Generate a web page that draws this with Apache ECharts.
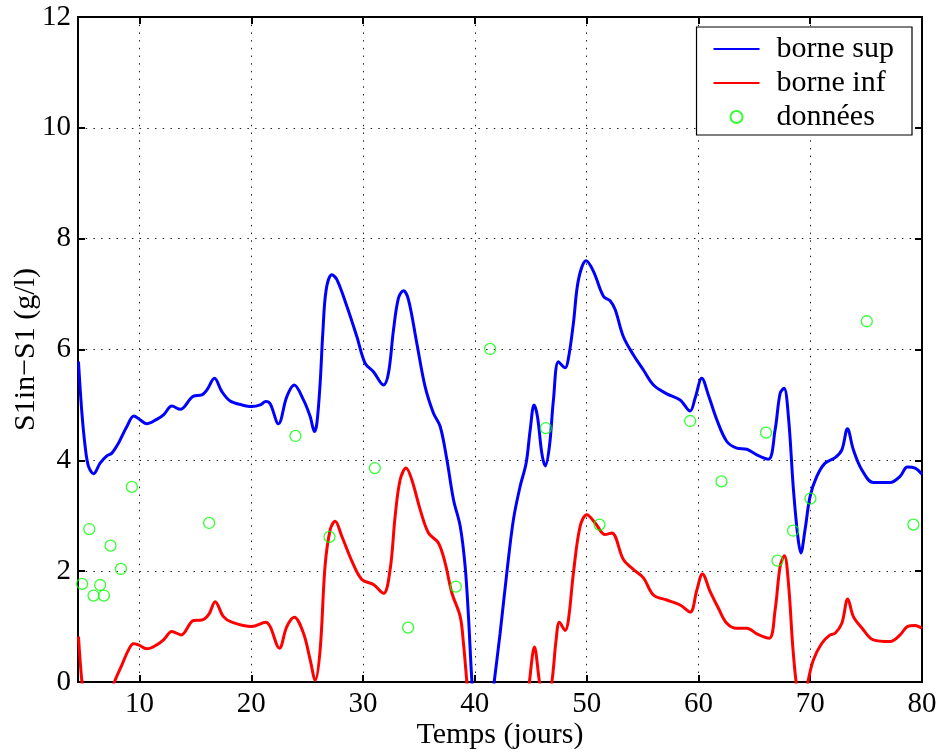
<!DOCTYPE html>
<html>
<head>
<meta charset="utf-8">
<title>S1in−S1</title>
<script src="https://cdn.jsdelivr.net/npm/echarts@6/dist/echarts.min.js"></script>
<style>
  html, body { margin: 0; padding: 0; background: #fff; }
  #chart { width: 942px; height: 756px; }
</style>
</head>
<body>
<div id="chart"></div>
<script>
// Upper bound (borne sup): time in days and value in g/l
const supTime = [4.54, 4.85, 5.14, 5.44, 5.89, 6.48, 7.08, 7.53, 8.12, 8.87, 9.5, 10.06, 10.66, 11.55, 12.15, 12.9, 13.64, 14.83, 15.58, 16.03, 16.71, 17.37, 18.11, 19.16, 20.05, 20.8, 21.3, 21.69, 22.43, 23.18, 23.84, 24.67, 25.27, 25.65, 25.87, 26.16, 26.4, 26.7, 27.21, 27.66, 28.55, 29.45, 30.19, 30.93, 31.83, 32.27, 32.72, 33.17, 33.61, 34.06, 34.81, 35.55, 36.3, 36.9, 37.5, 38.09, 38.69, 39.13, 39.43, 39.73, 40.1, 40.7, 41.2, 41.73, 42.26, 42.86, 43.45, 44.05, 44.59, 44.95, 45.3, 45.6, 45.99, 46.29, 46.67, 47.03, 47.48, 48.08, 48.37, 48.82, 49.27, 49.96, 50.61, 51.5, 52.1, 52.55, 53.29, 54.19, 55.08, 55.98, 57.17, 58.36, 59.26, 59.7, 60.3, 60.89, 61.65, 62.54, 63.43, 64.33, 65.22, 66.26, 66.86, 67.31, 67.66, 68.05, 68.5, 68.89, 69.16, 69.54, 69.99, 70.59, 71.33, 72.23, 72.83, 73.33, 73.86, 74.61, 75.65, 77.14, 78.04, 78.69, 79.38, 80.0];
const supValue = [5.78, 4.85, 4.25, 3.89, 3.76, 3.95, 4.08, 4.13, 4.31, 4.61, 4.8, 4.73, 4.66, 4.74, 4.82, 4.98, 4.92, 5.16, 5.18, 5.27, 5.48, 5.24, 5.07, 5.0, 4.97, 5.0, 5.06, 5.02, 4.66, 5.15, 5.36, 5.09, 4.79, 4.52, 4.67, 5.39, 6.3, 7.08, 7.35, 7.26, 6.78, 6.23, 5.75, 5.6, 5.36, 5.57, 6.35, 6.93, 7.06, 6.9, 6.11, 5.33, 4.85, 4.61, 4.01, 3.29, 2.81, 2.09, 1.18, 0.04, -0.9, -1.3, -0.9, 0.0, 0.88, 1.97, 2.93, 3.53, 3.95, 4.55, 5.0, 4.79, 4.13, 3.9, 4.25, 5.09, 5.78, 5.67, 5.84, 6.48, 7.26, 7.6, 7.41, 6.96, 6.88, 6.72, 6.23, 5.9, 5.63, 5.36, 5.2, 5.09, 4.89, 5.12, 5.48, 5.18, 4.73, 4.34, 4.22, 4.2, 4.1, 4.02, 4.55, 5.21, 5.3, 4.79, 3.47, 2.63, 2.33, 2.75, 3.35, 3.71, 3.95, 4.05, 4.19, 4.57, 4.19, 3.83, 3.6, 3.6, 3.71, 3.88, 3.86, 3.75];

// Lower bound (borne inf)
const infTime = [4.54, 4.85, 5.3, 6.3, 7.2, 7.76, 8.43, 9.02, 9.46, 9.91, 10.66, 11.55, 12.15, 12.9, 13.73, 14.83, 15.58, 16.2, 16.77, 17.51, 18.26, 20.05, 21.3, 21.69, 22.52, 23.18, 23.84, 24.67, 25.27, 25.72, 26.16, 26.6, 27.06, 27.5, 28.1, 29.0, 29.89, 30.93, 31.83, 32.42, 32.87, 33.32, 33.85, 34.36, 35.11, 35.85, 36.74, 37.34, 37.94, 38.69, 38.98, 39.28, 39.8, 41.0, 43.0, 44.3, 44.88, 45.33, 45.78, 46.3, 46.89, 47.27, 47.57, 48.08, 48.37, 48.82, 49.42, 50.02, 50.76, 51.65, 52.25, 53.29, 54.19, 55.08, 55.98, 57.17, 58.36, 59.26, 59.86, 60.36, 61.05, 61.79, 62.54, 63.43, 64.33, 65.22, 66.33, 66.86, 67.31, 67.69, 68.05, 68.44, 68.74, 69.2, 69.79, 70.29, 71.04, 71.78, 72.23, 72.83, 73.36, 73.86, 74.61, 75.65, 77.14, 78.04, 78.69, 79.38, 80.0];
const infValue = [0.82, 0.0, -0.8, -1.1, -0.4, 0.0, 0.31, 0.58, 0.69, 0.67, 0.6, 0.67, 0.76, 0.91, 0.85, 1.11, 1.12, 1.22, 1.45, 1.18, 1.08, 1.0, 1.08, 1.0, 0.61, 1.0, 1.17, 0.88, 0.4, 0.03, 0.58, 2.09, 2.75, 2.9, 2.63, 2.18, 1.85, 1.76, 1.6, 2.03, 2.99, 3.65, 3.86, 3.65, 3.11, 2.69, 2.51, 2.15, 1.61, 1.18, 0.7, 0.01, -1.2, -2.0, -2.0, -1.0, 0.0, 0.63, 0.0, -0.6, 0.0, 0.76, 1.08, 0.93, 1.12, 1.97, 2.81, 3.02, 2.87, 2.66, 2.69, 2.21, 2.03, 1.88, 1.57, 1.48, 1.39, 1.26, 1.66, 1.95, 1.63, 1.33, 1.06, 0.97, 0.97, 0.87, 0.79, 1.3, 2.09, 2.28, 1.79, 0.64, 0.0, -0.6, 0.0, 0.4, 0.7, 0.85, 0.88, 1.06, 1.5, 1.18, 0.98, 0.76, 0.73, 0.85, 1.0, 1.02, 0.97];

// Measured data (données)
const obsTime = [4.87, 5.51, 5.89, 6.48, 6.82, 7.41, 8.34, 9.32, 16.23, 23.95, 27.0, 31.05, 34.03, 38.3, 41.37, 46.35, 51.15, 59.26, 62.06, 66.05, 67.07, 68.47, 70.02, 75.06, 79.23];
const obsValue = [1.77, 2.76, 1.56, 1.75, 1.56, 2.46, 2.04, 3.52, 2.87, 4.44, 2.62, 3.86, 0.98, 1.72, 6.01, 4.58, 2.84, 4.71, 3.62, 4.50, 2.19, 2.73, 3.31, 6.51, 2.84];

// Axis ticks
const xTicks = [10, 20, 30, 40, 50, 60, 70, 80];
const yTicks = [0, 2, 4, 6, 8, 10, 12];

const zip = (a, b) => a.map((v, i) => [v, b[i]]);

const FONT = 'Liberation Serif';
const gridDots = { color: '#222', width: 1, type: [1.5, 6.2] };
// legend entries for the bounds show only the line, no marker
const hiddenMarker = { color: 'rgba(0,0,0,0)', borderColor: 'rgba(0,0,0,0)', borderWidth: 0 };

const chart = echarts.init(document.getElementById('chart'), null, { renderer: 'canvas' });

chart.setOption({
  backgroundColor: '#fff',
  animation: false,
  textStyle: { fontFamily: FONT, color: '#000' },
  grid: { left: 78, right: 20, top: 17, bottom: 74, containLabel: false, outerBoundsMode: 'none' },
  legend: {
    orient: 'vertical',
    right: 30,
    top: 27,
    backgroundColor: '#fff',
    borderColor: '#000',
    borderWidth: 1.2,
    borderRadius: 0,
    padding: [5, 18, 1, 16],
    itemGap: 0,
    itemWidth: 46,
    itemHeight: 12,
    textStyle: { fontFamily: FONT, fontSize: 30, color: '#000', lineHeight: 34, padding: [0, 0, 0, 12] },
    data: [
      { name: 'borne sup', itemStyle: hiddenMarker },
      { name: 'borne inf', itemStyle: hiddenMarker },
      { name: 'données' }
    ]
  },
  xAxis: [
    {
      type: 'value', min: 4.5, max: 80, position: 'bottom',
      name: 'Temps (jours)', nameLocation: 'middle', nameGap: 38, nameMoveOverlap: false,
      nameTextStyle: { fontFamily: FONT, fontSize: 30, color: '#000' },
      axisLine: { show: true, onZero: false, lineStyle: { color: '#000', width: 2 } },
      axisTick: { show: true, inside: true, length: 7, customValues: xTicks, lineStyle: { color: '#000', width: 2 } },
      axisLabel: { customValues: xTicks, fontFamily: FONT, fontSize: 29, color: '#000', margin: 8 },
      splitLine: { show: true, lineStyle: gridDots }
    },
    {
      type: 'value', min: 4.5, max: 80, position: 'top',
      axisLine: { show: true, onZero: false, lineStyle: { color: '#000', width: 2 } },
      axisTick: { show: true, inside: true, length: 7, customValues: xTicks, lineStyle: { color: '#000', width: 2 } },
      axisLabel: { show: false },
      splitLine: { show: false }
    }
  ],
  yAxis: [
    {
      type: 'value', min: 0, max: 12, interval: 2, position: 'left',
      name: 'S1in−S1 (g/l)', nameLocation: 'middle', nameGap: 37, nameRotate: 90, nameMoveOverlap: false,
      nameTextStyle: { fontFamily: FONT, fontSize: 30, color: '#000' },
      axisLine: { show: true, onZero: false, lineStyle: { color: '#000', width: 2 } },
      axisTick: { show: true, inside: true, length: 7, customValues: yTicks, lineStyle: { color: '#000', width: 2 } },
      axisLabel: { customValues: yTicks, fontFamily: FONT, fontSize: 29, color: '#000', margin: 7 },
      splitLine: { show: true, lineStyle: gridDots }
    },
    {
      type: 'value', min: 0, max: 12, interval: 2, position: 'right',
      axisLine: { show: true, onZero: false, lineStyle: { color: '#000', width: 2 } },
      axisTick: { show: true, inside: true, length: 7, lineStyle: { color: '#000', width: 2 } },
      axisLabel: { show: false },
      splitLine: { show: false }
    }
  ],
  series: [
    {
      name: 'borne sup', type: 'line', data: zip(supTime, supValue),
      smooth: 0.35, symbol: 'none', clip: true,
      lineStyle: { color: '#0000ff', width: 3 }, itemStyle: { color: '#0000ff' }, z: 3
    },
    {
      name: 'borne inf', type: 'line', data: zip(infTime, infValue),
      smooth: 0.35, symbol: 'none', clip: true,
      lineStyle: { color: '#ff0000', width: 3 }, itemStyle: { color: '#ff0000' }, z: 3
    },
    {
      name: 'données', type: 'scatter', data: zip(obsTime, obsValue),
      symbol: 'circle', symbolSize: 11, clip: true,
      itemStyle: { color: 'rgba(0,0,0,0)', borderColor: '#00ff00', borderWidth: 1.3 }, z: 4
    }
  ]
});
</script>
</body>
</html>
